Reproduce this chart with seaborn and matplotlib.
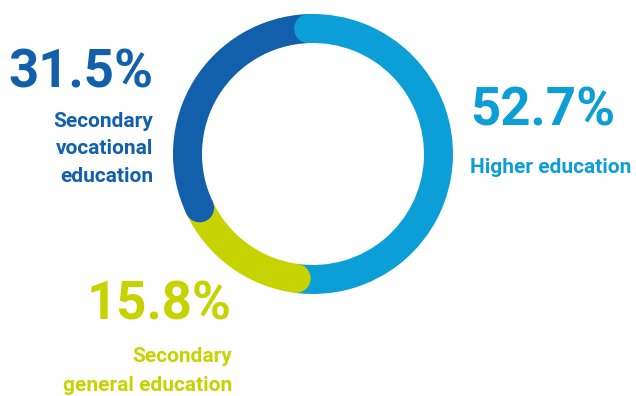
import numpy as np
import matplotlib
matplotlib.use("Agg")
import matplotlib.pyplot as plt
from matplotlib.patches import Circle
import seaborn as sns

# Share of graduates by level of education
categories = ["Higher education", "Secondary general education", "Secondary vocational education"]
shares = [52.7, 15.8, 31.5]
label_lines = [["Higher education"], ["Secondary", "general education"], ["Secondary", "vocational", "education"]]
colors = ["#0c9ed6", "#c6d300", "#1260ab"]

sns.set_theme(style="white")
plt.rcParams["font.family"] = ["Roboto", "DejaVu Sans"]

W, H = 636, 396
fig = plt.figure(figsize=(W / 100, H / 100), dpi=100)
ax = fig.add_axes([0, 0, 1, 1])

# ring geometry (pixels): centre, outer radius, band thickness
cx, cy, r_out, band = 313, 154, 140, 29
ring_w = band / r_out
start = 92.0  # degrees, counter-clockwise from the x axis

ax.pie(shares, colors=colors, startangle=start, counterclock=False, radius=1.0,
       wedgeprops=dict(width=ring_w, linewidth=0, edgecolor="none"))

# rounded cap at the leading end of every segment
mid_r = 1.0 - ring_w / 2
offsets = np.concatenate([[0.0], np.cumsum(shares)[:-1]])
for off, col in zip(offsets, colors):
    ang = np.deg2rad(start - 360.0 * off / sum(shares))
    ax.add_patch(Circle((mid_r * np.cos(ang), mid_r * np.sin(ang)), ring_w / 2,
                        facecolor=col, edgecolor="none", zorder=3))

ax.set_xlim(-cx / r_out, (W - cx) / r_out)
ax.set_ylim(-(H - cy) / r_out, cy / r_out)
ax.set_aspect("equal")
ax.axis("off")

def fx(px):
    return px / W

def fy(py):
    return 1 - py / H

# value + caption blocks: (anchor x, alignment, value baseline, caption baselines)
blocks = [
    (470, "left", 125, [173]),
    (232, "right", 320, [362, 391]),
    (153, "right", 87, [127, 154.5, 182]),
]
for (x, ha, yv, ybs), val, lines, col in zip(blocks, shares, label_lines, colors):
    fig.text(fx(x), fy(yv), f"{val:.1f}%", ha=ha, va="baseline", color=col,
             fontsize=38, fontweight="bold")
    for line, yb in zip(lines, ybs):
        fig.text(fx(x), fy(yb), line, ha=ha, va="baseline", color=col,
                 fontsize=15, fontweight="bold")

fig.savefig("out.png", dpi=100)
